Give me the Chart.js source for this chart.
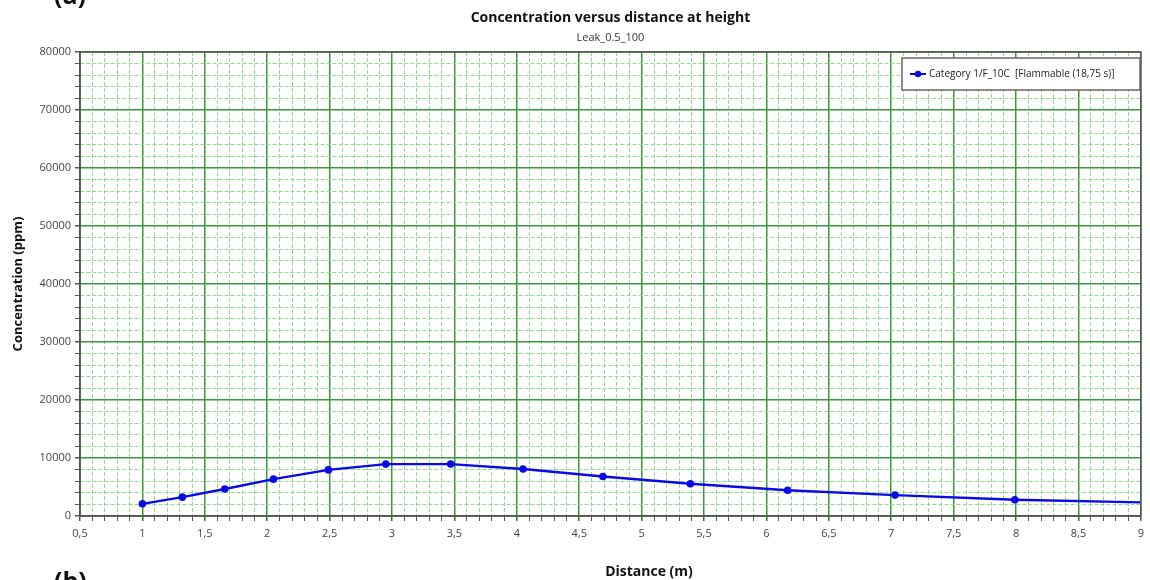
<!DOCTYPE html>
<html>
<head>
<meta charset="utf-8">
<title>Concentration versus distance at height</title>
<script src="https://cdn.jsdelivr.net/npm/chart.js@4.4.1/dist/chart.umd.min.js"></script>
<style>
  html, body { margin: 0; padding: 0; background: #ffffff; }
  #wrap { width: 1150px; height: 580px; position: relative; }
</style>
</head>
<body>
<div id="wrap"><canvas id="chart" width="1150" height="580"></canvas></div>
<script>
// Downwind distance (m) and concentration at height (ppm)
const distance = [1.0, 1.32, 1.66, 2.05, 2.49, 2.95, 3.47, 4.05, 4.69, 5.39, 6.17, 7.03, 7.99, 9.0];
const concentration = [2100, 3250, 4650, 6350, 7950, 8950, 8950, 8100, 6800, 5550, 4450, 3600, 2800, 2350];
// the last entry only carries the curve to the plot edge, no marker is drawn there
const markerShown = [true, true, true, true, true, true, true, true, true, true, true, true, true, false];

const seriesLabel = 'Category 1/F_10C  [Flammable (18,75 s)]';
const chartTitle = 'Concentration versus distance at height';
const chartSubtitle = 'Leak_0.5_100';
const xTitle = 'Distance (m)';
const yTitle = 'Concentration (ppm)';
const xRange = [0.5, 9];
const yRange = [0, 80000];

const FONT = '"Open Sans", "DejaVu Sans", sans-serif';
const MAJOR_GRID = '#3a983a';
const MINOR_GRID = '#92da92';
const AXIS_GRAY = '#555555';
const SERIES_BLUE = '#0a0ae6';

const points = distance.map((d, i) => ({ x: d, y: concentration[i] }));

const isMultiple = (v, step) => Math.abs(v / step - Math.round(v / step)) < 1e-6;

// Titles, figure tags, legend box and frame drawn on top of the chart
const annotations = {
  id: 'annotations',
  afterDraw(chart) {
    const ctx = chart.ctx;
    const area = chart.chartArea;
    ctx.save();

    // frame around the plot
    ctx.strokeStyle = AXIS_GRAY;
    ctx.lineWidth = 1.5;
    ctx.strokeRect(area.left, area.top, area.right - area.left, area.bottom - area.top);

    const cx = (area.left + area.right) / 2;
    ctx.fillStyle = '#111111';
    ctx.textAlign = 'center';
    ctx.textBaseline = 'middle';
    ctx.font = 'bold 14px ' + FONT;
    ctx.fillText(chartTitle, cx, 18);
    ctx.fillStyle = '#333333';
    ctx.font = '11px ' + FONT;
    ctx.fillText(chartSubtitle, cx, 38);

    ctx.fillStyle = '#111111';
    ctx.font = 'bold 14px ' + FONT;
    ctx.fillText(xTitle, 649, 572);

    // panel tags
    ctx.font = 'bold 25px ' + FONT;
    ctx.textAlign = 'left';
    ctx.textBaseline = 'alphabetic';
    ctx.fillText('(a)', 54, 4);
    ctx.fillText('(b)', 54, 590);

    // legend
    const lx = 902, ly = 58, lw = 238, lh = 32;
    ctx.fillStyle = '#ffffff';
    ctx.fillRect(lx, ly, lw, lh);
    ctx.strokeStyle = '#666666';
    ctx.lineWidth = 1.5;
    ctx.strokeRect(lx, ly, lw, lh);
    const my = ly + lh / 2;
    ctx.strokeStyle = SERIES_BLUE;
    ctx.lineWidth = 2;
    ctx.beginPath();
    ctx.moveTo(910, my);
    ctx.lineTo(926, my);
    ctx.stroke();
    ctx.fillStyle = SERIES_BLUE;
    ctx.beginPath();
    ctx.arc(918, my, 3.2, 0, Math.PI * 2);
    ctx.fill();
    ctx.fillStyle = '#222222';
    ctx.font = '10px ' + FONT;
    ctx.textBaseline = 'middle';
    ctx.fillText(seriesLabel, 929, my);

    ctx.restore();
  }
};

new Chart(document.getElementById('chart'), {
  type: 'scatter',
  data: {
    datasets: [{
      label: seriesLabel,
      data: points,
      showLine: true,
      borderColor: SERIES_BLUE,
      backgroundColor: SERIES_BLUE,
      borderWidth: 2.4,
      tension: 0,
      pointRadius: ctx => markerShown[ctx.dataIndex] ? 3.8 : 0,
      pointHoverRadius: 0,
      pointBorderWidth: 0
    }]
  },
  options: {
    responsive: false,
    animation: false,
    layout: { padding: { top: 52, right: 3, left: 0, bottom: 0 } },
    plugins: {
      legend: { display: false },
      title: { display: false },
      tooltip: { enabled: false }
    },
    scales: {
      x: {
        type: 'linear',
        min: xRange[0],
        max: xRange[1],
        afterFit(scale) { scale.height = 64; },
        border: {
          display: true, color: AXIS_GRAY, width: 1.5,
          dash: c => (c.tick && isMultiple(c.tick.value, 0.5)) ? [] : [4, 2]
        },
        grid: {
          color: c => isMultiple(c.tick.value, 0.5) ? MAJOR_GRID : MINOR_GRID,
          lineWidth: c => isMultiple(c.tick.value, 0.5) ? 1.5 : 1,
          tickColor: AXIS_GRAY,
          tickLength: 5,
          drawTicks: true
        },
        ticks: {
          stepSize: 0.1,
          autoSkip: false,
          maxRotation: 0,
          padding: 6,
          color: '#444444',
          font: { family: FONT, size: 11 },
          callback: v => isMultiple(v, 0.5) ? String(Math.round(v * 2) / 2).replace('.', ',') : ''
        }
      },
      y: {
        type: 'linear',
        min: yRange[0],
        max: yRange[1],
        afterFit(scale) { scale.width = 80; },
        border: {
          display: true, color: AXIS_GRAY, width: 1.5,
          dash: c => (c.tick && isMultiple(c.tick.value, 10000)) ? [] : [4, 2]
        },
        grid: {
          color: c => isMultiple(c.tick.value, 10000) ? MAJOR_GRID : MINOR_GRID,
          lineWidth: c => isMultiple(c.tick.value, 10000) ? 1.5 : 1,
          tickColor: AXIS_GRAY,
          tickLength: 5,
          drawTicks: true
        },
        ticks: {
          stepSize: 2000,
          autoSkip: false,
          padding: 4,
          color: '#444444',
          font: { family: FONT, size: 11 },
          callback: v => isMultiple(v, 10000) ? String(Math.round(v)) : ''
        },
        title: {
          display: true,
          text: yTitle,
          color: '#111111',
          font: { family: FONT, size: 13, weight: 'bold' },
          padding: { top: 10, bottom: 0 }
        }
      }
    }
  },
  plugins: [annotations]
});
</script>
</body>
</html>
